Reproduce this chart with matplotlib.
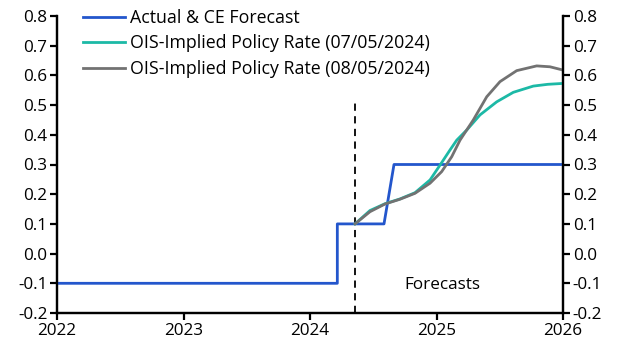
import matplotlib.pyplot as plt
from matplotlib.ticker import FormatStrFormatter

plt.rcParams["font.family"] = ["Open Sans", "DejaVu Sans"]
plt.rcParams["axes.unicode_minus"] = False

# Actual & CE forecast (decimal years)
actual_x = [2022.0, 2024.216, 2024.216, 2024.585, 2024.664, 2026.0]
actual_y = [-0.1, -0.1, 0.1, 0.1, 0.3, 0.3]

# OIS-implied policy rate, 07/05/2024
ois07_x = [2024.356, 2024.474, 2024.593, 2024.711, 2024.83, 2024.949, 2025.028,
           2025.107, 2025.16, 2025.239, 2025.344, 2025.476, 2025.607, 2025.765,
           2025.88, 2026.0]
ois07_y = [0.10, 0.145, 0.168, 0.184, 0.205, 0.248, 0.298,
           0.349, 0.382, 0.416, 0.467, 0.511, 0.543, 0.564,
           0.570, 0.573]

# OIS-implied policy rate, 08/05/2024
ois08_x = [2024.356, 2024.474, 2024.593, 2024.711, 2024.83, 2024.949, 2025.041,
           2025.12, 2025.186, 2025.291, 2025.397, 2025.502, 2025.634, 2025.792,
           2025.897, 2026.0]
ois08_y = [0.10, 0.141, 0.167, 0.183, 0.203, 0.237, 0.276,
           0.326, 0.382, 0.450, 0.528, 0.579, 0.616, 0.632,
           0.629, 0.618]

cutoff = 2024.356
years = [2022, 2023, 2024, 2025, 2026]

fig = plt.figure(figsize=(6.19, 3.53), dpi=100)
ax = fig.add_axes([57 / 619, 1 - 313 / 353, (563 - 57) / 619, (313 - 16) / 353])

ax.plot(actual_x, actual_y, color="#2356cc", lw=2.0, label="Actual & CE Forecast", zorder=3)
ax.plot(ois07_x, ois07_y, color="#1cb9a6", lw=2.0,
        label="OIS-Implied Policy Rate (07/05/2024)", zorder=4)
ax.plot(ois08_x, ois08_y, color="#727272", lw=2.0,
        label="OIS-Implied Policy Rate (08/05/2024)", zorder=5)
ax.plot([cutoff, cutoff], [-0.2, 0.52], color="black", lw=1.3,
        ls=(0, (4, 3)), zorder=2)
ax.text(2025.05, -0.105, "Forecasts", ha="center", va="center", fontsize=12.3)

ax.set_xlim(2022, 2026)
ax.set_ylim(-0.2, 0.8)
ax.set_xticks(years)
ax.set_xticklabels([str(y) for y in years])
ax.set_yticks([i / 10 for i in range(-2, 9)])
ax.yaxis.set_major_formatter(FormatStrFormatter("%.1f"))

ax2 = ax.twinx()
ax2.set_ylim(-0.2, 0.8)
ax2.set_yticks([i / 10 for i in range(-2, 9)])
ax2.yaxis.set_major_formatter(FormatStrFormatter("%.1f"))

for a in (ax, ax2):
    a.spines["top"].set_visible(False)
    for s in ("left", "right", "bottom"):
        a.spines[s].set_linewidth(1.6)
    a.tick_params(direction="out", length=5, width=1.6, labelsize=12.3, pad=2)

ax.legend(loc="upper left", bbox_to_anchor=(83 / 619, 1 - 9 / 353),
          bbox_transform=fig.transFigure, frameon=False,
          fontsize=12.8, handlelength=2.35, handletextpad=0.3, labelspacing=0.42,
          borderaxespad=0, borderpad=0)

fig.savefig("out.png", dpi=100)
